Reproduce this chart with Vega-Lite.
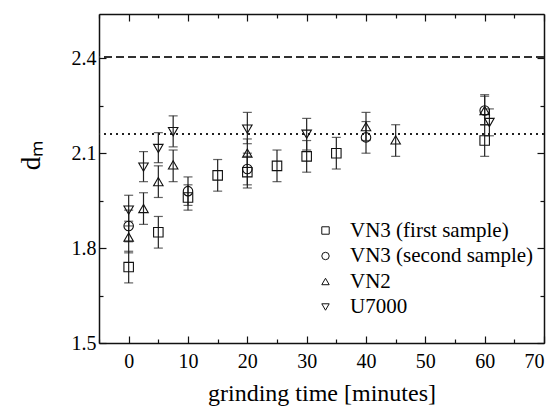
{
  "$schema": "https://vega.github.io/schema/vega-lite/v6.json",
  "width": 445,
  "height": 329,
  "autosize": "none",
  "padding": {"left": 99, "top": 14, "right": 11, "bottom": 63},
  "background": "white",
  "config": {
    "view": {"stroke": null},
    "font": "Liberation Serif",
    "axis": {
      "labelFont": "Liberation Serif",
      "titleFont": "Liberation Serif",
      "labelColor": "black",
      "titleColor": "black",
      "domainColor": "#111",
      "domainWidth": 1.5,
      "tickColor": "#111",
      "tickWidth": 1.2,
      "grid": false,
      "labelFontSize": 20,
      "titleFontWeight": "normal"
    }
  },
  "data": {
    "values": [
      {"series": "VN3 (first sample)", "t": 0, "d": 1.74, "lo": 1.69, "hi": 1.79},
      {"series": "VN3 (first sample)", "t": 5, "d": 1.85, "lo": 1.80, "hi": 1.90},
      {"series": "VN3 (first sample)", "t": 10, "d": 1.96, "lo": 1.92, "hi": 2.00},
      {"series": "VN3 (first sample)", "t": 15, "d": 2.03, "lo": 1.98, "hi": 2.08},
      {"series": "VN3 (first sample)", "t": 20, "d": 2.04, "lo": 1.99, "hi": 2.09},
      {"series": "VN3 (first sample)", "t": 25, "d": 2.06, "lo": 2.01, "hi": 2.11},
      {"series": "VN3 (first sample)", "t": 30, "d": 2.09, "lo": 2.04, "hi": 2.14},
      {"series": "VN3 (first sample)", "t": 35, "d": 2.10, "lo": 2.05, "hi": 2.15},
      {"series": "VN3 (first sample)", "t": 60, "d": 2.14, "lo": 2.09, "hi": 2.19},
      {"series": "VN3 (second sample)", "t": 0, "d": 1.87, "lo": 1.82, "hi": 1.92},
      {"series": "VN3 (second sample)", "t": 10, "d": 1.98, "lo": 1.935, "hi": 2.025},
      {"series": "VN3 (second sample)", "t": 20, "d": 2.05, "lo": 2.00, "hi": 2.10},
      {"series": "VN3 (second sample)", "t": 40, "d": 2.15, "lo": 2.10, "hi": 2.20},
      {"series": "VN3 (second sample)", "t": 60, "d": 2.235, "lo": 2.19, "hi": 2.285},
      {"series": "VN2", "t": 0, "d": 1.835, "lo": 1.785, "hi": 1.885},
      {"series": "VN2", "t": 2.5, "d": 1.925, "lo": 1.875, "hi": 1.975},
      {"series": "VN2", "t": 5, "d": 2.01, "lo": 1.96, "hi": 2.06},
      {"series": "VN2", "t": 7.5, "d": 2.063, "lo": 2.01, "hi": 2.11},
      {"series": "VN2", "t": 20, "d": 2.10, "lo": 2.055, "hi": 2.145},
      {"series": "VN2", "t": 40, "d": 2.184, "lo": 2.14, "hi": 2.229},
      {"series": "VN2", "t": 45, "d": 2.142, "lo": 2.09, "hi": 2.19},
      {"series": "VN2", "t": 60, "d": 2.235, "lo": 2.19, "hi": 2.28},
      {"series": "U7000", "t": 0, "d": 1.92, "lo": 1.87, "hi": 1.967},
      {"series": "U7000", "t": 2.5, "d": 2.056, "lo": 2.01, "hi": 2.105},
      {"series": "U7000", "t": 5, "d": 2.115, "lo": 2.07, "hi": 2.165},
      {"series": "U7000", "t": 7.5, "d": 2.168, "lo": 2.12, "hi": 2.218},
      {"series": "U7000", "t": 20, "d": 2.176, "lo": 2.13, "hi": 2.229},
      {"series": "U7000", "t": 30, "d": 2.16, "lo": 2.11, "hi": 2.21},
      {"series": "U7000", "t": 60.8, "d": 2.197, "lo": 2.155, "hi": 2.24}
    ]
  },
  "resolve": {"axis": {"x": "independent", "y": "independent"}},
  "layer": [
    {
      "mark": {"type": "rule", "strokeDash": [8, 4], "strokeWidth": 1.1, "color": "#333"},
      "encoding": {"y": {"datum": 2.405, "type": "quantitative", "axis": null}}
    },
    {
      "mark": {"type": "rule", "strokeDash": [1.5, 4.5], "strokeWidth": 1.3, "color": "#222"},
      "encoding": {"y": {"datum": 2.16, "type": "quantitative", "axis": null}}
    },
    {
      "mark": {"type": "rule", "strokeWidth": 1.2, "color": "#222"},
      "encoding": {
        "x": {"field": "t", "type": "quantitative", "scale": {"domain": [-5, 70], "nice": false, "zero": false},
              "axis": {"orient": "bottom", "values": [-5, 5, 15, 25, 35, 45, 55, 65], "labels": false, "tickSize": -4, "domain": true, "title": null}},
        "y": {"field": "lo", "type": "quantitative", "scale": {"domain": [1.5, 2.54], "nice": false, "zero": false},
              "axis": {"orient": "left", "values": [1.65, 1.95, 2.25], "labels": false, "tickSize": -4, "domain": true, "title": null}},
        "y2": {"field": "hi"}
      }
    },
    {
      "mark": {"type": "tick", "orient": "horizontal", "size": 9, "thickness": 1.2, "color": "#222"},
      "encoding": {
        "x": {"field": "t", "type": "quantitative",
              "axis": {"orient": "top", "values": [0, 10, 20, 30, 40, 50, 60, 70], "labels": false, "tickSize": -7, "domain": true, "title": null}},
        "y": {"field": "lo", "type": "quantitative",
              "axis": {"orient": "right", "values": [1.5, 1.8, 2.1, 2.4], "labels": false, "tickSize": -7, "domain": true, "title": null}}
      }
    },
    {
      "mark": {"type": "tick", "orient": "horizontal", "size": 9, "thickness": 1.2, "color": "#222"},
      "encoding": {
        "x": {"field": "t", "type": "quantitative",
              "axis": {"orient": "top", "values": [-5, 5, 15, 25, 35, 45, 55, 65], "labels": false, "tickSize": -4, "domain": false, "title": null}},
        "y": {"field": "hi", "type": "quantitative",
              "axis": {"orient": "right", "values": [1.65, 1.95, 2.25], "labels": false, "tickSize": -4, "domain": false, "title": null}}
      }
    },
    {
      "mark": {"type": "point", "filled": false, "size": 90, "strokeWidth": 1.1, "color": "#111", "opacity": 1},
      "encoding": {
        "x": {"field": "t", "type": "quantitative",
              "axis": {"orient": "bottom", "values": [0, 10, 20, 30, 40, 50, 60, 70], "tickSize": -7, "labelPadding": 15, "domain": false,
                       "title": "grinding time [minutes]", "titleFontSize": 24, "titlePadding": 10}},
        "y": {"field": "d", "type": "quantitative",
              "axis": {"orient": "left", "values": [1.5, 1.8, 2.1, 2.4], "format": ".1f", "tickSize": -7, "labelPadding": 10, "domain": false,
                       "title": "dₘ", "titleFontSize": 27, "titlePadding": 26, "titleY": 141}},
        "shape": {"field": "series", "type": "nominal",
                  "scale": {"domain": ["VN3 (first sample)", "VN3 (second sample)", "VN2", "U7000"], "range": ["square", "circle", "triangle-up", "triangle-down"]},
                  "legend": {"orient": "none", "legendX": 216, "legendY": 206, "title": null, "padding": 0,
                             "labelFont": "Liberation Serif", "labelFontSize": 21, "labelColor": "black", "labelLimit": 400,
                             "rowPadding": 3.5, "symbolSize": 55, "symbolStrokeColor": "#111", "symbolFillColor": "transparent",
                             "symbolStrokeWidth": 1, "labelOffset": 14}}
      }
    }
  ]
}
